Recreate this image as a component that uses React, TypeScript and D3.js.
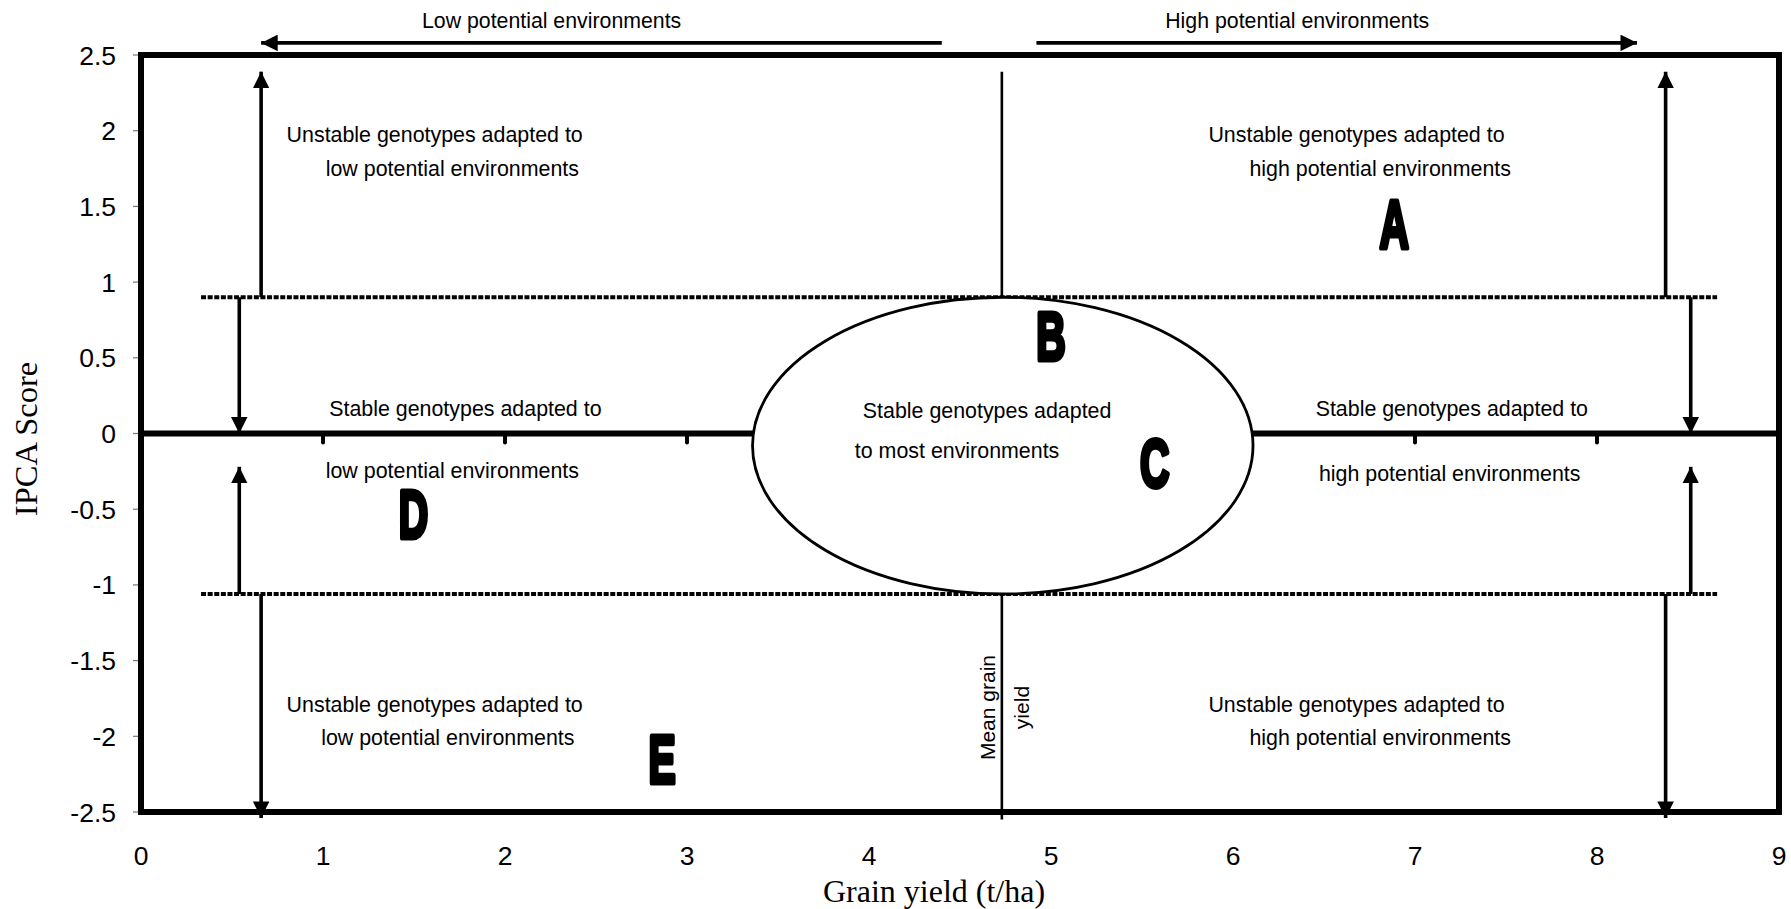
import React, { useEffect } from 'react';
import * as d3 from 'd3';

const WIDTH = 1791;
const HEIGHT = 909;

const xTicks = [0, 1, 2, 3, 4, 5, 6, 7, 8, 9];
const yTicks = [2.5, 2, 1.5, 1, 0.5, 0, -0.5, -1, -1.5, -2, -2.5];

// thresholds
const meanYield = 4.73;
const upperLimit = 0.9;
const lowerLimit = -1.06;
const limitSpan = [0.33, 8.66];

// ellipse of stable genotypes: [cx, cy, rx, ry] in data units
const stableEllipse = [4.735, -0.08, 1.375, 0.98];

// [x1, y1, x2, y2] with the arrow head at (x2, y2)
const arrows = [
    [4.4, 2.58, 0.66, 2.58],
    [4.92, 2.58, 8.22, 2.58],
    [0.66, 0.9, 0.66, 2.39],
    [0.54, 0.9, 0.54, 0.0],
    [0.54, -1.06, 0.54, -0.22],
    [0.66, -1.06, 0.66, -2.54],
    [8.377, 0.9, 8.377, 2.39],
    [8.515, 0.9, 8.515, 0.0],
    [8.515, -1.06, 8.515, -0.22],
    [8.377, -1.06, 8.377, -2.54],
];

const zoneTexts: [string, number, number][] = [
    ['Unstable genotypes adapted to', 0.8, 1.976],
    ['low potential environments', 1.015, 1.75],
    ['Unstable genotypes adapted to', 5.865, 1.976],
    ['high potential environments', 6.09, 1.75],
    ['Stable genotypes adapted to', 1.034, 0.166],
    ['low potential environments', 1.015, -0.241],
    ['Stable genotypes adapted', 3.966, 0.151],
    ['to most environments', 3.922, -0.113],
    ['Stable genotypes adapted to', 6.454, 0.166],
    ['high potential environments', 6.472, -0.264],
    ['Unstable genotypes adapted to', 0.8, -1.787],
    ['low potential environments', 0.99, -2.006],
    ['Unstable genotypes adapted to', 5.865, -1.787],
    ['high potential environments', 6.09, -2.006],
];

const headerTexts: [string, number, number][] = [
    ['Low potential environments', 2.256, 2.73],
    ['High potential environments', 6.353, 2.73],
];

const groupLetters: [string, number, number][] = [
    ['A', 6.886, 1.39],
    ['B', 5.0, 0.645],
    ['C', 5.57, -0.19],
    ['D', 1.497, -0.53],
    ['E', 2.863, -2.15],
];

const sans = '"Liberation Sans", Arial, sans-serif';
const serif = '"Liberation Serif", "Times New Roman", serif';

const App: React.FC = () => {
    useEffect(() => {
        document.body.style.margin = '0';
    }, []);

    const x = d3.scaleLinear().domain([0, 9]).range([141, 1779]);
    const y = d3.scaleLinear().domain([-2.5, 2.5]).range([812, 55]);

    const [cx, cy, rx, ry] = stableEllipse;

    return (
        <svg width={WIDTH} height={HEIGHT} style={{ display: 'block', background: '#fff' }}>
            <defs>
                <marker id="head" viewBox="0 0 10 10" refX="10" refY="5" markerWidth="4.6" markerHeight="4.6"
                    markerUnits="strokeWidth" orient="auto">
                    <path d="M0,0 L10,5 L0,10 Z" fill="#000" />
                </marker>
            </defs>

            {/* y tick marks and labels */}
            {yTicks.map(t => (
                <g key={'y' + t}>
                    <line x1={x(0) - 8} x2={x(0)} y1={y(t)} y2={y(t)} stroke="#777" strokeWidth={1.2} />
                    <text x={116} y={y(t)} dy="0.36em" textAnchor="end" fontFamily={sans} fontSize={26.5}>{t}</text>
                </g>
            ))}

            {/* x tick labels */}
            {xTicks.map(t => (
                <text key={'x' + t} x={x(t)} y={855} dy="0.36em" textAnchor="middle" fontFamily={sans} fontSize={26.5}>{t}</text>
            ))}

            {/* plot frame */}
            <rect x={x(0)} y={y(2.5)} width={x(9) - x(0)} height={y(-2.5) - y(2.5)}
                fill="none" stroke="#000" strokeWidth={6} />

            {/* zero line with its ticks */}
            <line x1={x(0)} x2={x(9)} y1={y(0)} y2={y(0)} stroke="#000" strokeWidth={6} />
            {xTicks.map(t => (
                <line key={'zt' + t} x1={x(t)} x2={x(t)} y1={y(0)} y2={y(0) + 9}
                    stroke="#000" strokeWidth={4} strokeLinecap="round" />
            ))}

            {/* mean grain yield */}
            <line x1={x(meanYield)} x2={x(meanYield)} y1={y(2.39)} y2={y(-2.55)} stroke="#000" strokeWidth={2.6} />

            {/* stability limits */}
            {[upperLimit, lowerLimit].map(v => (
                <line key={'lim' + v} x1={x(limitSpan[0])} x2={x(limitSpan[1])} y1={y(v)} y2={y(v)}
                    stroke="#000" strokeWidth={4} strokeDasharray="5 1.6" />
            ))}

            {/* stable zone */}
            <ellipse cx={x(cx)} cy={y(cy)} rx={x(cx + rx) - x(cx)} ry={y(cy - ry) - y(cy)}
                fill="#fff" stroke="#000" strokeWidth={2.8} />

            {/* arrows */}
            {arrows.map((a, i) => (
                <line key={'a' + i} x1={x(a[0])} y1={y(a[1])} x2={x(a[2])} y2={y(a[3])}
                    stroke="#000" strokeWidth={3.6} markerEnd="url(#head)" />
            ))}

            {/* texts */}
            {headerTexts.map(([s, tx, ty]) => (
                <text key={s} x={x(tx)} y={y(ty)} dy="0.36em" textAnchor="middle" fontFamily={sans} fontSize={21.3}>{s}</text>
            ))}
            {zoneTexts.map(([s, tx, ty], i) => (
                <text key={'z' + i} x={x(tx)} y={y(ty)} dy="0.36em" fontFamily={sans} fontSize={21.4}>{s}</text>
            ))}

            <text transform={`translate(${x(4.649)},${y(-1.81)}) rotate(-90)`} dy="0.36em" textAnchor="middle"
                fontFamily={sans} fontSize={21}>Mean grain</text>
            <text transform={`translate(${x(4.84)},${y(-1.81)}) rotate(-90)`} dy="0.36em" textAnchor="middle"
                fontFamily={sans} fontSize={21}>yield</text>

            {groupLetters.map(([s, tx, ty]) => (
                <text key={s} transform={`translate(${x(tx)},${y(ty)}) scale(0.6,1)`} dy="0.36em"
                    textAnchor="middle" fontFamily={sans} fontWeight="bold" fontSize={68}
                    stroke="#000" strokeWidth={5} strokeLinejoin="round">{s}</text>
            ))}

            {/* axis titles */}
            <text transform={`translate(25,${439}) rotate(-90)`} dy="0.36em" textAnchor="middle"
                fontFamily={serif} fontSize={32.5}>IPCA Score</text>
            <text x={934} y={890} dy="0.36em" textAnchor="middle" fontFamily={serif} fontSize={32}>Grain yield (t/ha)</text>
        </svg>
    );
};

export default App;
